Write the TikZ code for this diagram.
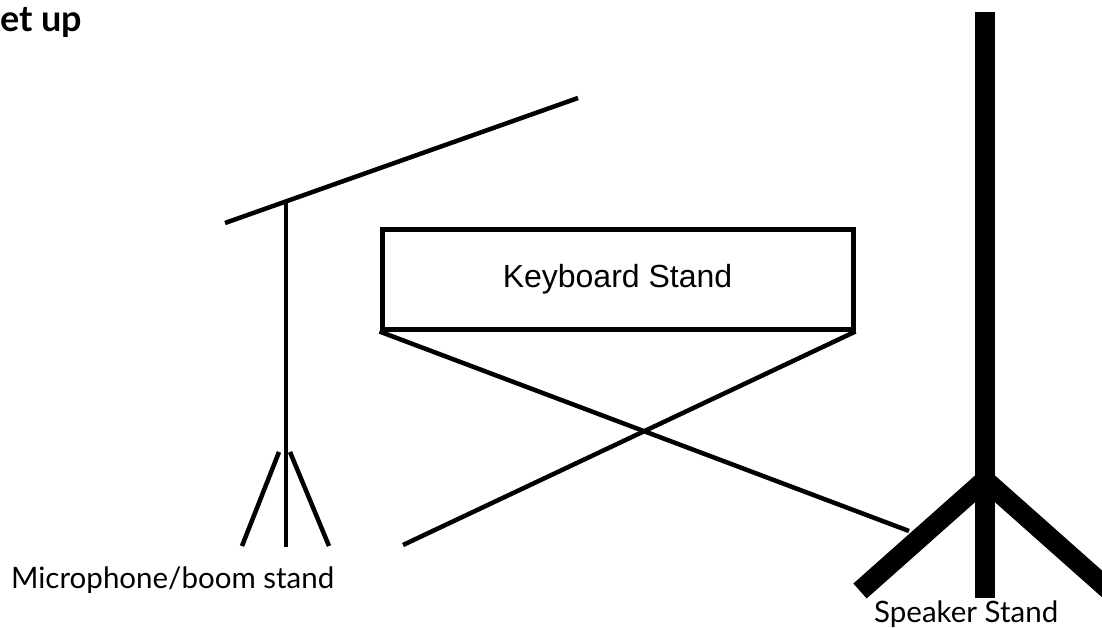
\documentclass[tikz,border=0pt]{standalone}
\usepackage{fontspec}
\setmainfont{Lato}
\newfontfamily\kbfont{Liberation Sans}
\usetikzlibrary{positioning}

\begin{document}
\begin{tikzpicture}[x=1pt,y=-1pt,
  thin stand/.style={draw=black,line width=4.5pt},
  thick stand/.style={draw=black,line width=20pt},
  label/.style={inner sep=0pt,font=\fontsize{29.5}{34}\selectfont}]

   \useasboundingbox (0,0) rectangle (1102,628);

   % title (cut off at the left)
   \node[inner sep=0pt,anchor=base west,font=\fontsize{36}{40}\bfseries] (title) at (0,32) {et up};

   % microphone / boom stand
   \coordinate (boomL) at (225,223);
   \coordinate (boomR) at (578,98);
   \coordinate (poleT) at (286,200);
   \coordinate (poleB) at (286,547);
   \coordinate (legLT) at (279,452);
   \coordinate (legLB) at (242,546);
   \coordinate (legRT) at (290,452);
   \coordinate (legRB) at (329,546);

   \draw[thin stand] (boomL) -- (boomR);
   \draw[thin stand] (poleT) -- (poleB);
   \draw[thin stand] (legLT) -- (legLB);
   \draw[thin stand] (legRT) -- (legRB);

   \node[label,anchor=base west] (mic) at (11,588) {Microphone/boom stand};

   % keyboard stand
   \node[thin stand,line width=5pt,minimum width=471pt,minimum height=99pt,
         font=\kbfont\fontsize{32}{36}\selectfont] (kb) at (617.5,279.5) {Keyboard Stand};
   \coordinate (footL) at (403,545);
   \coordinate (footR) at (909,531);

   \draw[thin stand] (kb.south west) -- (footR);
   \draw[thin stand] (kb.south east) -- (footL);

   % speaker stand
   \coordinate (spkT) at (985,12);
   \coordinate (spkB) at (985,598);
   \coordinate (spkJ) at (985,480);
   \coordinate (spkL) at (860,591);
   \coordinate (spkR) at (1110,591);

   \draw[thick stand] (spkT) -- (spkB);
   \draw[thick stand] (spkJ) -- (spkL);
   \draw[thick stand] (spkJ) -- (spkR);

   \node[label,anchor=base west] (spk) at (874,622) {Speaker Stand};

\end{tikzpicture}
\end{document}
